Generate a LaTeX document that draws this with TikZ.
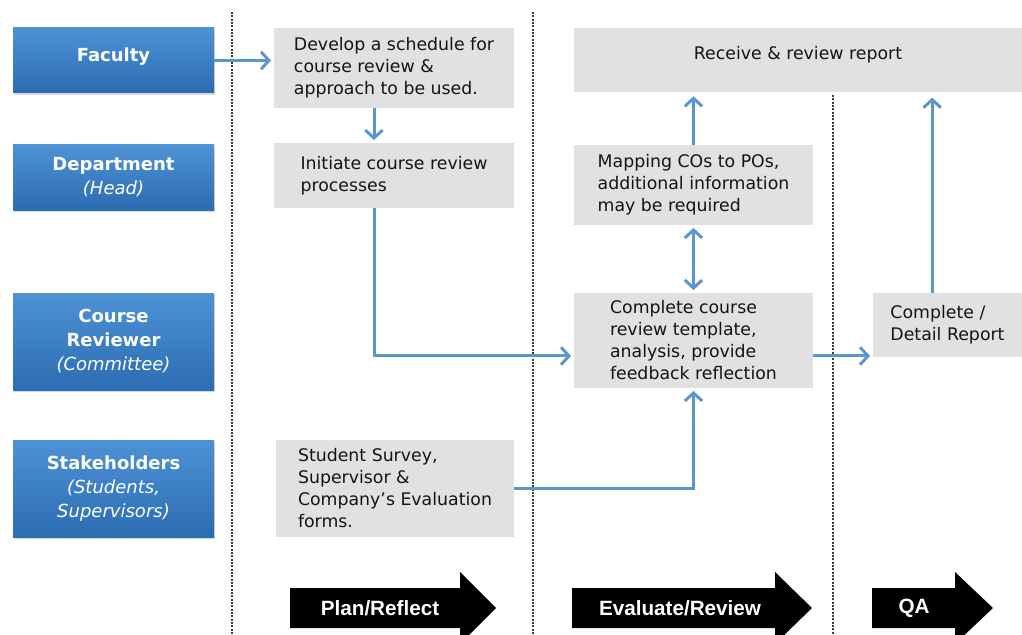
\documentclass[tikz,border=0pt]{standalone}
\usepackage{fontspec}
\setmainfont{DejaVu Sans}
\newfontfamily\bannerfont{Liberation Sans}
\usepackage{tikz}
\usetikzlibrary{shapes,arrows.meta,shadows}

\begin{document}
\begin{tikzpicture}[x=0.75pt,y=0.75pt,yscale=-1,xscale=1,
    rolebox/.style={top color={rgb,255:red,78;green,146;blue,214}, bottom color={rgb,255:red,44;green,108;blue,178},
        text=white, font=\fontsize{13.5}{18}\selectfont\bfseries, align=center, inner sep=0pt,
        minimum width=150.75pt, drop shadow={opacity=0.3,shadow xshift=1pt,shadow yshift=-1.5pt}},
    taskbox/.style={fill={rgb,255:red,225;green,225;blue,225}, text={rgb,255:red,20;green,20;blue,20},
        font=\fontsize{13}{16.5}\selectfont, align=left, inner sep=0pt},
    flow/.style={draw={rgb,255:red,91;green,150;blue,207}, line width=2.25pt, shorten >=2pt,
        -{Straight Barb[length=6pt,width=13pt]}},
    divider/.style={draw={rgb,255:red,60;green,60;blue,60}, line width=1.8pt, dash pattern=on 1.5pt off 1pt},
    banner/.style={text=white, font=\bannerfont\fontsize{15.5}{18}\selectfont\bfseries}
    ]
    \useasboundingbox (0,0) rectangle (1022,635);
    \clip (0,0) rectangle (1022,635);
    
    %Dotted dividers
    \draw [divider] (232,12) -- (232,635) ;
    \draw [divider] (533,12) -- (533,635) ;
    \draw [divider] (833,95) -- (833,635) ;
    
    %Role boxes
    \node [rolebox, minimum height=48.75pt] (fac) at (113.5,60.5) {Faculty\\[-9pt]};
    \node [rolebox, minimum height=48.75pt] (dept) at (113.5,177.5) {Department\\\mdseries\itshape (Head)};
    \node [rolebox, minimum height=72.75pt] (rev) at (113.5,341.5) {Course\\Reviewer\\\mdseries\itshape (Committee)};
    \node [rolebox, minimum height=72.75pt] (stake) at (113.5,488.5) {Stakeholders\\\mdseries\itshape (Students,\\\mdseries\itshape Supervisors)};
    
    %Task boxes
    \node [taskbox, minimum width=180pt, minimum height=60pt] (dev) at (394,68) {Develop a schedule for\\course review \&\\approach to be used.};
    \node [taskbox, minimum width=180pt, minimum height=48.75pt] (init) at (394,175.5) {Initiate course review\\processes};
    \node [taskbox, minimum width=336pt, minimum height=48pt] (recv) at (798,60) {Receive \& review report\\[-6pt]};
    \node [taskbox, minimum width=179.25pt, minimum height=60pt] (map) at (693.5,185) {Mapping COs to POs,\\additional information\\may be required};
    \node [taskbox, minimum width=179.25pt, minimum height=71.25pt] (comp) at (693.5,340.5) {Complete course\\review template,\\analysis, provide\\feedback reflection};
    \node [taskbox, minimum width=111.75pt, minimum height=48pt] (det) at (947.5,325) {Complete /\\Detail Report};
    \node [taskbox, minimum width=178.5pt, minimum height=72.75pt] (surv) at (395,488.5) {Student Survey,\\Supervisor \&\\Company’s Evaluation\\forms.};
    
    %Connectors
    \draw [flow] (fac.east) -- (fac.east -| dev.west) ;
    \draw [flow] ([xshift=-15pt]dev.south) -- ([xshift=-15pt]init.north) ;
    \draw [flow] ([xshift=-15pt]init.south) |- ([yshift=11.6pt]comp.west) ;
    \draw [flow, shorten <=2pt, {Straight Barb[length=6pt,width=13pt]}-{Straight Barb[length=6pt,width=13pt]}] (map.south) -- (comp.north) ;
    \draw [flow, shorten >=3pt] (map.north) -- (map.north |- recv.south) ;
    \draw [flow] ([yshift=11.6pt]comp.east) -- ([yshift=11.6pt]comp.east -| det.west) ;
    \draw [flow, shorten >=4pt] ([xshift=-11.5pt]det.north) -- ([xshift=-11.5pt]det.north |- recv.south) ;
    \draw [flow] (surv.east) -| (comp.south) ;
    
    %Stage arrows
    \fill [black] (290,588) -- (460,588) -- (460,572) -- (496,608) -- (460,644) -- (460,628) -- (290,628) -- cycle ;
    \fill [black] (572,588) -- (775,588) -- (775,572) -- (812,608) -- (775,644) -- (775,628) -- (572,628) -- cycle ;
    \fill [black] (872,588) -- (955,588) -- (955,572) -- (993,608) -- (955,644) -- (955,628) -- (872,628) -- cycle ;
    % Text Node
    \node [banner] (plan) at (380,608) {Plan/Reflect};
    % Text Node
    \node [banner] (evalrev) at (680,608) {Evaluate/Review};
    % Text Node
    \node [banner] (qa) at (914,608) {QA};
    
\end{tikzpicture}
\end{document}
